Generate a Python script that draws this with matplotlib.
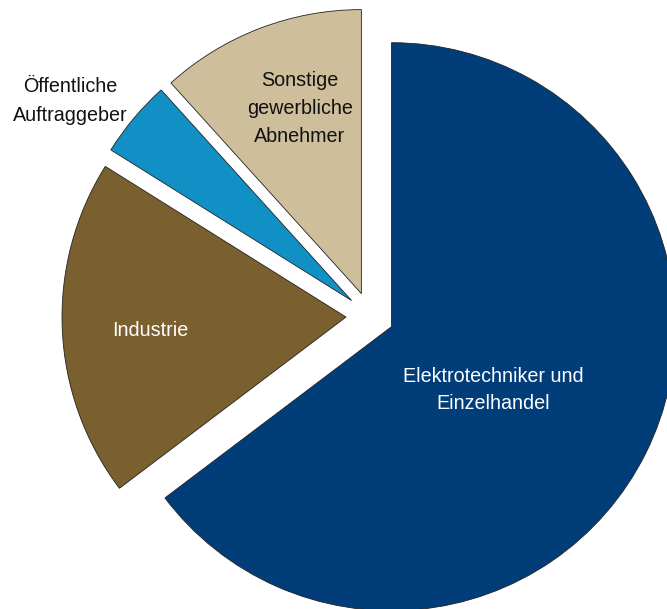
import matplotlib.pyplot as plt

# Anteile der Abnehmergruppen (in %)
labels = ['Elektrotechniker und\nEinzelhandel', 'Industrie',
          'Öffentliche\nAuftraggeber', 'Sonstige\ngewerbliche\nAbnehmer']
shares = [64.7, 19.2, 4.4, 11.7]
colors = ['#003D79', '#7A5F2F', '#1190C6', '#CEBE9B']
text_colors = ['white', 'white', '#111111', '#111111']

# Textpositionen in Pixeln (x, y von oben)
label_pos = [(493, 390), (150, 331), (70, 101), (300, 109)]
spacing = [1.5, 1.5, 1.7, 1.6]

W, H = 667, 609
fig = plt.figure(figsize=(W / 100, H / 100), dpi=100)
ax = fig.add_axes([0, 0, 1, 1])

ax.pie(shares, colors=colors, startangle=90, counterclock=False,
       center=(370, H - 316), radius=284, explode=[24] * len(shares),
       wedgeprops=dict(edgecolor='#222222', linewidth=0.6))

ax.set_xlim(0, W)
ax.set_ylim(0, H)
ax.set_aspect('equal')
ax.axis('off')

for lab, (x, y), c, ls in zip(labels, label_pos, text_colors, spacing):
    ax.text(x, H - y, lab, ha='center', va='center', color=c,
            fontsize=14.2, family='Liberation Sans', linespacing=ls)

fig.savefig('out.png', dpi=100)
